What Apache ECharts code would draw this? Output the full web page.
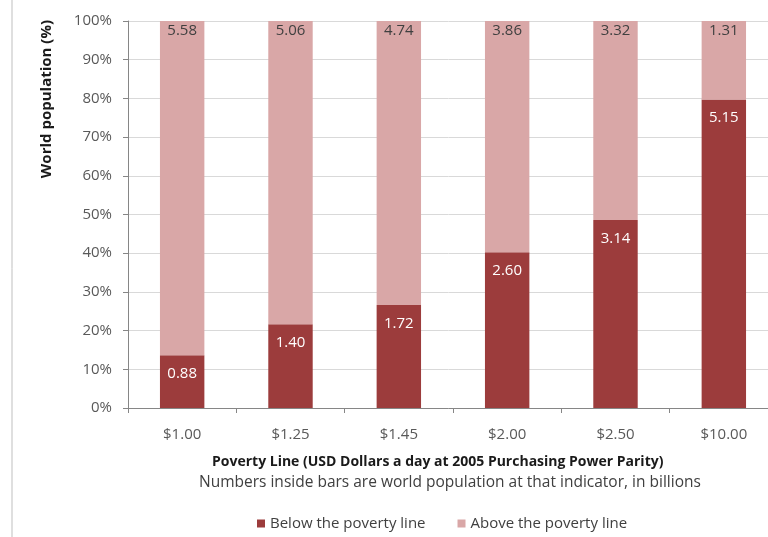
<!DOCTYPE html>
<html>
<head>
<meta charset="utf-8">
<script src="https://cdn.jsdelivr.net/npm/echarts@6/dist/echarts.min.js"></script>
<style>
  html, body { margin: 0; padding: 0; background: #fff; }
  #chart { width: 768px; height: 537px; }
</style>
</head>
<body>
<div id="chart"></div>
<script>
// world population (billions) at each poverty line
var povertyLines = ['$1.00', '$1.25', '$1.45', '$2.00', '$2.50', '$10.00'];
var belowLine = [0.88, 1.40, 1.72, 2.60, 3.14, 5.15];
var aboveLine = [5.58, 5.06, 4.74, 3.86, 3.32, 1.31];

var font = 'Open Sans';

// share of total, for the 100% stacked bars
function share(arr, i) {
    return arr[i] / (belowLine[i] + aboveLine[i]) * 100;
}
var belowData = belowLine.map(function (v, i) {
    return { value: share(belowLine, i), label: { formatter: v.toFixed(2) } };
});
var aboveData = aboveLine.map(function (v, i) {
    return { value: share(aboveLine, i), label: { formatter: v.toFixed(2) } };
});

var chart = echarts.init(document.getElementById('chart'));
var option = {
    animation: false,
    textStyle: { fontFamily: font },
    grid: {
        left: 128,
        width: 650,
        top: 21,
        bottom: 129,
        outerBoundsMode: 'none'
    },
    legend: {
        top: 511,
        left: 252,
        itemWidth: 8,
        itemHeight: 8,
        itemGap: 32,
        icon: 'rect',
        textStyle: { color: '#404040', fontSize: 15, fontFamily: font },
        data: ['Below the poverty line', 'Above the poverty line']
    },
    graphic: [
        {
            type: 'text',
            left: 39,
            top: 20,
            rotation: Math.PI / 2,
            style: {
                text: 'World population (%)',
                fontSize: 15,
                fontWeight: 'bold',
                fontFamily: font,
                fill: '#1a1a1a'
            }
        },
        {
            type: 'text',
            left: 212,
            top: 455,
            style: {
                text: 'Poverty Line (USD Dollars a day at 2005 Purchasing Power Parity)',
                fontSize: 14,
                fontWeight: 'bold',
                fontFamily: font,
                fill: '#1a1a1a'
            }
        },
        {
            type: 'text',
            left: 199,
            top: 475,
            style: {
                text: 'Numbers inside bars are world population at that indicator, in billions',
                fontSize: 15.5,
                fontFamily: font,
                fill: '#404040'
            }
        },
        {
            type: 'line',
            shape: { x1: 12, y1: 0, x2: 12, y2: 537 },
            style: { stroke: '#bfbfbf', lineWidth: 1 }
        }
    ],
    xAxis: {
        type: 'category',
        data: povertyLines,
        axisLine: { lineStyle: { color: '#868686' } },
        axisTick: { show: true, length: 5, lineStyle: { color: '#868686' } },
        axisLabel: { color: '#595959', fontSize: 15, margin: 19 }
    },
    yAxis: {
        type: 'value',
        min: 0,
        max: 100,
        interval: 10,
        axisLine: { show: true, lineStyle: { color: '#868686' } },
        axisTick: { show: true, length: 5, inside: false, lineStyle: { color: '#868686' } },
        axisLabel: { color: '#595959', fontSize: 15, margin: 16, formatter: '{value}%' },
        splitLine: { lineStyle: { color: '#d9d9d9' } }
    },
    series: [
        {
            name: 'Below the poverty line',
            type: 'bar',
            stack: 'pop',
            barWidth: '41%',
            data: belowData,
            itemStyle: { color: '#9c3c3c' },
            label: {
                show: true,
                position: 'insideTop',
                distance: 11,
                color: '#fff',
                fontSize: 15
            }
        },
        {
            name: 'Above the poverty line',
            type: 'bar',
            stack: 'pop',
            barWidth: '41%',
            data: aboveData,
            itemStyle: { color: '#d9a7a7' },
            label: {
                show: true,
                position: 'insideTop',
                distance: 2,
                color: '#404040',
                fontSize: 15
            }
        }
    ]
};
chart.setOption(option);
</script>
</body>
</html>
